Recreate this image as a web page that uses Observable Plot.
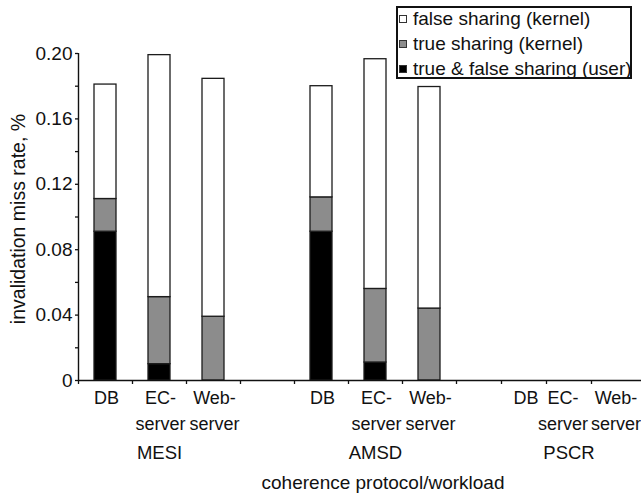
<!DOCTYPE html>
<html>
<head>
<meta charset="utf-8">
<script src="https://cdn.jsdelivr.net/npm/d3@7"></script>
<script src="https://cdn.jsdelivr.net/npm/@observablehq/plot@0.6"></script>
<style>
  body { margin: 0; background: #fff; font-family: "Liberation Sans", Arial, sans-serif; color: #111; }
  #chart { position: relative; width: 641px; height: 493px; }
  .legend { position: absolute; left: 396px; top: 6px; width: 232px; height: 69px; border: 2px solid #111; background: #fff; }
  .legend .row { height: 25px; line-height: 25px; display: flex; align-items: center; font-size: 19px; white-space: nowrap; }
  .legend .row:first-child { margin-top: -2px; }
  .legend .sw { box-sizing: border-box; width: 8px; height: 8px; border: 1px solid #333; margin: 0 6px 0 1px; flex: none; }
</style>
</head>
<body>
<div id="chart"></div>
<script>
// Workloads and coherence protocols on the horizontal axis
const workloads = ["DB", "EC-server", "Web-server"];
const protocols = ["MESI", "AMSD", "PSCR"];

// Stack components, bottom to top
const seriesNames = ["true & false sharing (user)", "true sharing (kernel)", "false sharing (kernel)"];

// Invalidation miss rate (%) per bar: MESI DB, EC, Web | AMSD DB, EC, Web | PSCR DB, EC, Web
const userSharing  = [0.091, 0.010, 0.000, 0.091, 0.011, 0.000, 0, 0, 0];
const trueKernel   = [0.020, 0.041, 0.039, 0.021, 0.045, 0.044, 0, 0, 0];
const falseKernel  = [0.070, 0.148, 0.1455, 0.068, 0.1405, 0.1355, 0, 0, 0];

const yTicks = [0, 0.04, 0.08, 0.12, 0.16, 0.20];
const yMinorTicks = [0.02, 0.06, 0.10, 0.14, 0.18];

const seriesValues = [userSharing, trueKernel, falseKernel];
const fills = ["#000000", "#8c8c8c", "#ffffff"];

// Each protocol takes one slot per workload plus an empty spacer slot
const groupSize = workloads.length + 1;
const segments = [];
const labels = [];
protocols.forEach((p, pi) => {
  workloads.forEach((w, wi) => {
    const i = pi * workloads.length + wi;
    const slot = pi * groupSize + wi;
    let base = 0;
    seriesNames.forEach((s, si) => {
      const v = seriesValues[si][i];
      if (v > 0) segments.push({slot, series: s, y1: base, y2: base + v});
      base += v;
    });
    // workload names wrap after the hyphen
    const [line1, line2 = ""] = w.includes("-") ? [w.slice(0, w.indexOf("-") + 1), w.slice(w.indexOf("-") + 1)] : [w];
    labels.push({cx: slot + 0.5, line1, line2, protocol: p, workload: w});
  });
});
const groups = protocols.map((p, pi) => ({cx: pi * groupSize + 1.5, text: p}));
const lastSlot = protocols.length * groupSize - 1;

const fs = 18;
const last = protocols[protocols.length - 1];
const wideLabels = labels.filter(d => d.protocol !== last);
const ecLast = labels.filter(d => d.protocol === last && d.workload === workloads[1]);
const otherLast = labels.filter(d => d.protocol === last && d.workload !== workloads[1]);

// two rows of workload labels under the baseline
function workloadRows(data, dx) {
  return [
    Plot.text(data, {x: "cx", text: "line1", frameAnchor: "bottom", lineAnchor: "top", dy: 11, dx, fontSize: fs}),
    Plot.text(data, {x: "cx", text: "line2", frameAnchor: "bottom", lineAnchor: "top", dy: 36.5, dx, fontSize: fs})
  ];
}

const chart = Plot.plot({
  width: 641,
  height: 493,
  marginTop: 53,
  marginLeft: 78,
  marginRight: 0,
  marginBottom: 113,
  style: {fontFamily: "'Liberation Sans', Arial, sans-serif", fontSize: "19px", color: "#111", background: "#fff"},
  x: {type: "linear", domain: [0, lastSlot - 4, lastSlot], range: [78, 456, 636]},
  y: {domain: [0, 0.2]},
  color: {type: "ordinal", domain: seriesNames, range: fills},
  marks: [
    Plot.rectY(segments, {
      x1: "slot", x2: d => d.slot + 1, y1: "y1", y2: "y2",
      fill: "series", stroke: "#1c1c1c", strokeWidth: 1.3,
      insetLeft: 16, insetRight: 16
    }),
    Plot.ruleY([0], {stroke: "#111", strokeWidth: 1.4}),
    Plot.ruleX([0], {y1: 0, y2: 0.2, stroke: "#111", strokeWidth: 1.4}),
    Plot.axisY({ticks: yTicks, tickSize: 3, tickPadding: 3, strokeWidth: 1.3, label: null, fontSize: 19,
      tickFormat: d => d === 0 ? "0" : d3.format(".2f")(d)}),
    Plot.axisY({ticks: yMinorTicks, tickSize: 3, strokeWidth: 1.3, label: null, tickFormat: () => ""}),
    Plot.axisX({ticks: d3.range(0, lastSlot), tickSize: 4, strokeWidth: 1.3, label: null, tickFormat: () => ""}),
    // workload labels
    ...workloadRows(wideLabels, 1),
    ...workloadRows(ecLast, -6),
    ...workloadRows(otherLast, 2),
    // protocol labels
    Plot.text(groups, {x: "cx", text: "text", frameAnchor: "bottom", lineAnchor: "top", dy: 65, fontSize: 18.5}),
    // axis titles
    Plot.text(["coherence protocol/workload"], {
      text: d => d, frameAnchor: "bottom", lineAnchor: "top", dy: 95, dx: 23, fontSize: 19
    }),
    Plot.text(["invalidation miss rate, %"], {
      text: d => d, frameAnchor: "left", textAnchor: "middle", rotate: -90, dx: -60, dy: 2, fontSize: 19.5
    })
  ]
});

const root = document.getElementById("chart");
root.appendChild(chart);

// Legend, top row first
const legend = document.createElement("div");
legend.className = "legend";
seriesNames.map((name, i) => ({name, fill: fills[i]})).reverse().forEach(({name, fill}) => {
  const row = document.createElement("div");
  row.className = "row";
  const sw = document.createElement("span");
  sw.className = "sw";
  sw.style.background = fill;
  row.appendChild(sw);
  row.appendChild(document.createTextNode(name));
  legend.appendChild(row);
});
root.appendChild(legend);
</script>
</body>
</html>
